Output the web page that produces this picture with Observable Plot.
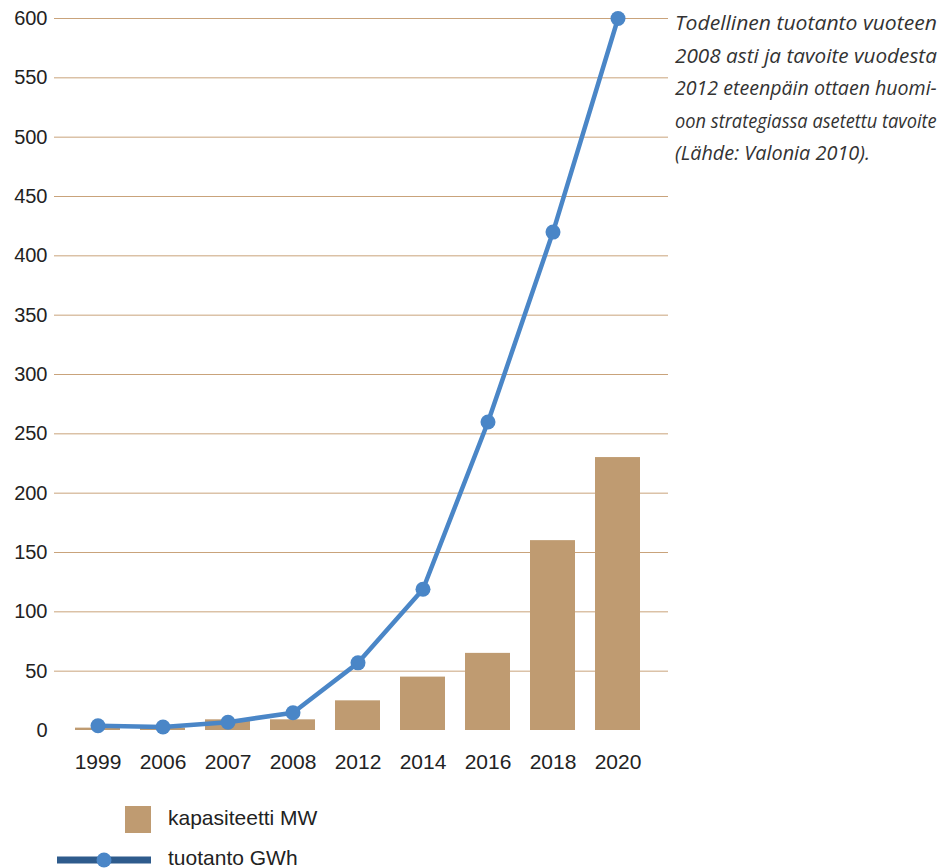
<!DOCTYPE html>
<html>
<head>
<meta charset="utf-8">
<script src="https://cdn.jsdelivr.net/npm/d3@7"></script>
<script src="https://cdn.jsdelivr.net/npm/@observablehq/plot@0.6"></script>
<style>
  html, body { margin: 0; padding: 0; background: #fff; }
  #wrap { position: relative; width: 950px; height: 868px; overflow: hidden; }
  #chart { position: absolute; left: 0; top: 0; }
  #note { position: absolute; left: 0; top: 0; }
  .leg { position: absolute; font-family: "Liberation Sans", Arial, sans-serif; font-size: 21px; color: #222; }
</style>
</head>
<body>
<div id="wrap">
  <div id="chart"></div>
  <svg id="note" width="950" height="200"></svg>
</div>
<script>
// ---- data ----
const years = ["1999", "2006", "2007", "2008", "2012", "2014", "2016", "2018", "2020"];
const capacityMW = [2, 2, 9, 9, 25, 45, 65, 160, 230];
const productionGWh = [4, 3, 7, 15, 57, 119, 260, 420, 600];
const yTicks = [0, 50, 100, 150, 200, 250, 300, 350, 400, 450, 500, 550, 600];
const legendLabels = ["kapasiteetti MW", "tuotanto GWh"];
const noteLines = [
  "Todellinen tuotanto vuoteen",
  "2008 asti ja tavoite vuodesta",
  "2012 eteenpäin ottaen huomi-",
  "oon strategiassa asetettu tavoite",
  "(Lähde: Valonia 2010)."
];

const data = years.map((y, i) => ({year: y, cap: capacityMW[i], prod: productionGWh[i]}));

const barColor = "#bf9b71";
const lineColor = "#4a86c7";
const gridColor = "#c9a37b";

const chart = Plot.plot({
  width: 670,
  height: 790,
  marginTop: 18,
  marginBottom: 60,
  marginLeft: 54,
  marginRight: 2,
  style: {fontFamily: "Liberation Sans, Arial, sans-serif", color: "#222", background: "transparent"},
  x: {type: "band", domain: years, range: [55, 660], padding: 0.3077, round: false, label: null},
  y: {domain: [0, 600], label: null},
  marks: [
    Plot.ruleY(yTicks.filter(d => d > 0), {stroke: gridColor, strokeWidth: 1}),
    Plot.barY(data, {x: "year", y: "cap", fill: barColor}),
    Plot.line(data, {x: "year", y: "prod", stroke: lineColor, strokeWidth: 4.5, strokeLinejoin: "round"}),
    Plot.dot(data, {x: "year", y: "prod", r: 7.5, fill: lineColor, stroke: "none"}),
    Plot.axisY({ticks: yTicks, tickSize: 0, tickPadding: 7, fontSize: 20, label: null, fill: "#222"}),
    Plot.axisX({tickSize: 0, tickPadding: 24, fontSize: 21, label: null, fill: "#222"})
  ]
});
document.getElementById("chart").appendChild(chart);

// ---- annotation (right side) ----
const note = d3.select("#note");
const baselines = [30, 63, 95, 128, 160];
const widths = [262, 262, 262, 262, 195];
noteLines.forEach((t, i) => {
  const txt = note.append("text")
    .attr("x", 0)
    .attr("y", 0)
    .attr("font-family", "Open Sans, Lato, sans-serif")
    .attr("font-style", "italic")
    .attr("font-size", 20)
    .attr("fill", "#333")
    .text(t);
  const natural = txt.node().getComputedTextLength();
  const sx = widths[i] / natural;
  txt.attr("transform", `translate(675,${baselines[i]}) scale(${sx},1)`);
});

// ---- legend (below) ----
const wrap = document.getElementById("wrap");
const sw = document.createElement("div");
sw.style.cssText = `position:absolute;left:125px;top:806px;width:26px;height:27px;background:${barColor};`;
wrap.appendChild(sw);
const l1 = document.createElement("div");
l1.className = "leg";
l1.style.cssText = "left:168px;top:806px;line-height:24px;";
l1.textContent = legendLabels[0];
wrap.appendChild(l1);

const lsvg = d3.select(wrap).append("svg")
  .style("position", "absolute").style("left", "0px").style("top", "845px")
  .attr("width", 160).attr("height", 23);
lsvg.append("line").attr("x1", 57).attr("x2", 151).attr("y1", 15).attr("y2", 15)
  .attr("stroke", "#2e5b8c").attr("stroke-width", 7);
lsvg.append("circle").attr("cx", 104).attr("cy", 15).attr("r", 7.5).attr("fill", lineColor);
const l2 = document.createElement("div");
l2.className = "leg";
l2.style.cssText = "left:168px;top:848px;line-height:20px;";
l2.textContent = legendLabels[1];
wrap.appendChild(l2);
</script>
</body>
</html>
